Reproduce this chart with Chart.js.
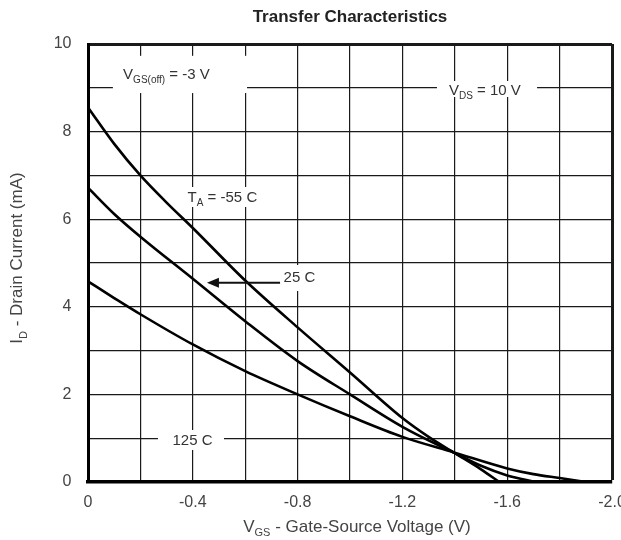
<!DOCTYPE html>
<html><head><meta charset="utf-8">
<style>html,body{margin:0;padding:0;background:#fff;}canvas{display:block;}</style>
<script src="https://cdn.jsdelivr.net/npm/chart.js@4.4.1/dist/chart.umd.min.js"></script>
</head><body>
<canvas id="c" width="621" height="540"></canvas>
<script>
const FONT = "'Liberation Sans', Arial, Helvetica, sans-serif";
const chartTitle = 'Transfer Characteristics';
const xTickLabels = ['0', '-0.4', '-0.8', '-1.2', '-1.6', '-2.0'];
const yTickLabels = ['0', '2', '4', '6', '8', '10'];

// TA = -55 C
const vgsM55 = [0, -0.1, -0.2, -0.3, -0.4, -0.6, -0.8, -1.0, -1.2, -1.3, -1.4, -1.5, -1.57];
const idM55  = [8.55, 7.72, 7.0, 6.38, 5.8, 4.6, 3.53, 2.5, 1.46, 1.03, 0.66, 0.29, 0];
// 25 C
const vgs25 = [0, -0.1, -0.2, -0.4, -0.6, -0.8, -1.0, -1.2, -1.4, -1.5, -1.6, -1.71];
const id25  = [6.72, 6.12, 5.6, 4.64, 3.67, 2.76, 2.0, 1.26, 0.66, 0.37, 0.15, 0];
// 125 C
const vgs125 = [0, -0.1, -0.2, -0.4, -0.6, -0.8, -1.0, -1.2, -1.4, -1.6, -1.7, -1.8, -1.9];
const id125  = [4.58, 4.2, 3.83, 3.14, 2.53, 2.0, 1.5, 1.03, 0.67, 0.31, 0.18, 0.09, 0];

const seriesNames = ['TA = -55 C', '25 C', '125 C'];

function pts(xs, ys) { return xs.map((x, i) => ({ x: x, y: ys[i] })); }

// text annotations, anchored in data coordinates
const notes = [
  { parts: [['V'], ['GS(off)', 1], [' = -3 V']], x: -0.134, y: 9.32, align: 'left', box: [-0.095, 9.73, -0.607, 8.88] },
  { parts: [['V'], ['DS', 1], [' = 10 V']], x: -1.515, y: 8.97, align: 'center', box: [-1.332, 9.155, -1.714, 8.79] },
  { parts: [['T'], ['A', 1], [' = -55 C']], x: -0.513, y: 6.51, align: 'center', box: [-0.366, 6.735, -0.664, 6.279] },
  { parts: [['25 C']], x: -0.807, y: 4.687, align: 'center', box: [-0.695, 4.954, -0.916, 4.361] },
  { parts: [['125 C']], x: -0.399, y: 0.959, align: 'center', box: [-0.267, 1.187, -0.519, 0.731] }
];
const arrow25 = { from: -0.733, to: -0.454, y: 4.55 };
const xTitleParts = [['V'], ['GS', 1], [' - Gate-Source Voltage (V)']];
const yTitleParts = [['I'], ['D', 1], [' - Drain Current (mA)']];

function drawRich(ctx, parts, x, baseY, align, size, color) {
  const sub = Math.round(size * 0.64);
  let w = 0;
  const ws = parts.map(p => {
    ctx.font = (p[1] ? sub : size) + 'px ' + FONT;
    const m = ctx.measureText(p[0]).width;
    w += m;
    return m;
  });
  let cx = align === 'center' ? x - w / 2 : (align === 'right' ? x - w : x);
  ctx.fillStyle = color;
  ctx.textBaseline = 'alphabetic';
  ctx.textAlign = 'left';
  parts.forEach((p, i) => {
    ctx.font = (p[1] ? sub : size) + 'px ' + FONT;
    ctx.fillText(p[0], cx, p[1] ? baseY + size * 0.28 : baseY);
    cx += ws[i];
  });
}

const annotationPlugin = {
  id: 'annot',
  beforeDatasetsDraw(chart) {
    const ctx = chart.ctx, xs = chart.scales.x, ys = chart.scales.y;
    ctx.save();
    ctx.fillStyle = '#fff';
    notes.forEach(n => {
      const x1 = xs.getPixelForValue(n.box[0]), x2 = xs.getPixelForValue(n.box[2]);
      const y1 = ys.getPixelForValue(n.box[1]), y2 = ys.getPixelForValue(n.box[3]);
      ctx.fillRect(Math.min(x1, x2), Math.min(y1, y2), Math.abs(x2 - x1), Math.abs(y2 - y1));
    });
    ctx.restore();
  },
  afterDatasetsDraw(chart) {
    const ctx = chart.ctx, xs = chart.scales.x, ys = chart.scales.y;
    ctx.save();
    const size = 15;
    notes.forEach(n => {
      drawRich(ctx, n.parts, xs.getPixelForValue(n.x), ys.getPixelForValue(n.y) + size * 0.36, n.align, size, '#333');
    });
    // arrow
    const ax1 = xs.getPixelForValue(arrow25.from), ax2 = xs.getPixelForValue(arrow25.to);
    const ay = ys.getPixelForValue(arrow25.y);
    ctx.strokeStyle = '#111';
    ctx.lineWidth = 2;
    ctx.beginPath();
    ctx.moveTo(ax1, ay);
    ctx.lineTo(ax2 + 8, ay);
    ctx.stroke();
    ctx.fillStyle = '#111';
    ctx.beginPath();
    ctx.moveTo(ax2, ay);
    ctx.lineTo(ax2 + 12, ay - 5);
    ctx.lineTo(ax2 + 12, ay + 5);
    ctx.closePath();
    ctx.fill();
    ctx.restore();
  },
  afterDraw(chart) {
    const ctx = chart.ctx, ca = chart.chartArea;
    ctx.save();
    // x axis title
    drawRich(ctx, xTitleParts, (ca.left + ca.right) / 2 + 7, 531.5, 'center', 17, '#444');
    // y axis title
    ctx.translate(16, (ca.top + ca.bottom) / 2 - 5);
    ctx.rotate(-Math.PI / 2);
    drawRich(ctx, yTitleParts, 0, 6, 'center', 17, '#444');
    ctx.restore();
  }
};

const lineStyle = { borderColor: '#000', borderWidth: 2.6, pointRadius: 0, cubicInterpolationMode: 'monotone', fill: false };

new Chart(document.getElementById('c'), {
  type: 'line',
  data: {
    datasets: [
      Object.assign({ label: seriesNames[0], data: pts(vgsM55, idM55) }, lineStyle),
      Object.assign({ label: seriesNames[1], data: pts(vgs25, id25) }, lineStyle),
      Object.assign({ label: seriesNames[2], data: pts(vgs125, id125) }, lineStyle)
    ]
  },
  options: {
    responsive: false,
    devicePixelRatio: 1,
    animation: false,
    layout: { padding: { left: 0, right: 9, top: 0, bottom: 0 } },
    plugins: {
      legend: { display: false },
      tooltip: { enabled: false },
      title: {
        display: true,
        text: chartTitle,
        fullSize: false,
        color: '#222',
        font: { family: FONT, size: 17, weight: 'bold', lineHeight: 1.2 },
        padding: { top: 7, bottom: 16.6 }
      }
    },
    scales: {
      x: {
        type: 'linear',
        min: -2, max: 0,
        reverse: true,
        ticks: {
          stepSize: 0.2, autoSkip: false, maxRotation: 0, padding: 11,
          color: '#444', font: { family: FONT, size: 16 },
          callback: (v) => { const k = Math.round(-v * 5); return k % 2 ? '' : xTickLabels[k / 2]; }
        },
        grid: {
          color: '#1a1a1a', drawTicks: false,
          lineWidth: (c) => (c.tick && Math.abs(c.tick.value + 2) < 1e-6) ? 3 : 1.2
        },
        border: { display: true, color: '#000', width: 3.5 },
        afterFit(s) { s.height = 58; s.paddingLeft = 0; s.paddingRight = 0; }
      },
      y: {
        type: 'linear',
        min: 0, max: 10,
        ticks: {
          stepSize: 1, autoSkip: false, padding: 16.5,
          color: '#444', font: { family: FONT, size: 16 },
          callback: (v) => { const k = Math.round(v); return k % 2 ? '' : yTickLabels[k / 2]; }
        },
        grid: {
          color: '#1a1a1a', drawTicks: false,
          lineWidth: (c) => (c.tick && Math.abs(c.tick.value - 10) < 1e-6) ? 3 : 1.2
        },
        border: { display: true, color: '#000', width: 3 },
        afterFit(s) { s.width = 88; s.paddingTop = 0; s.paddingBottom = 0; }
      }
    }
  },
  plugins: [annotationPlugin]
});
</script>
</body></html>
